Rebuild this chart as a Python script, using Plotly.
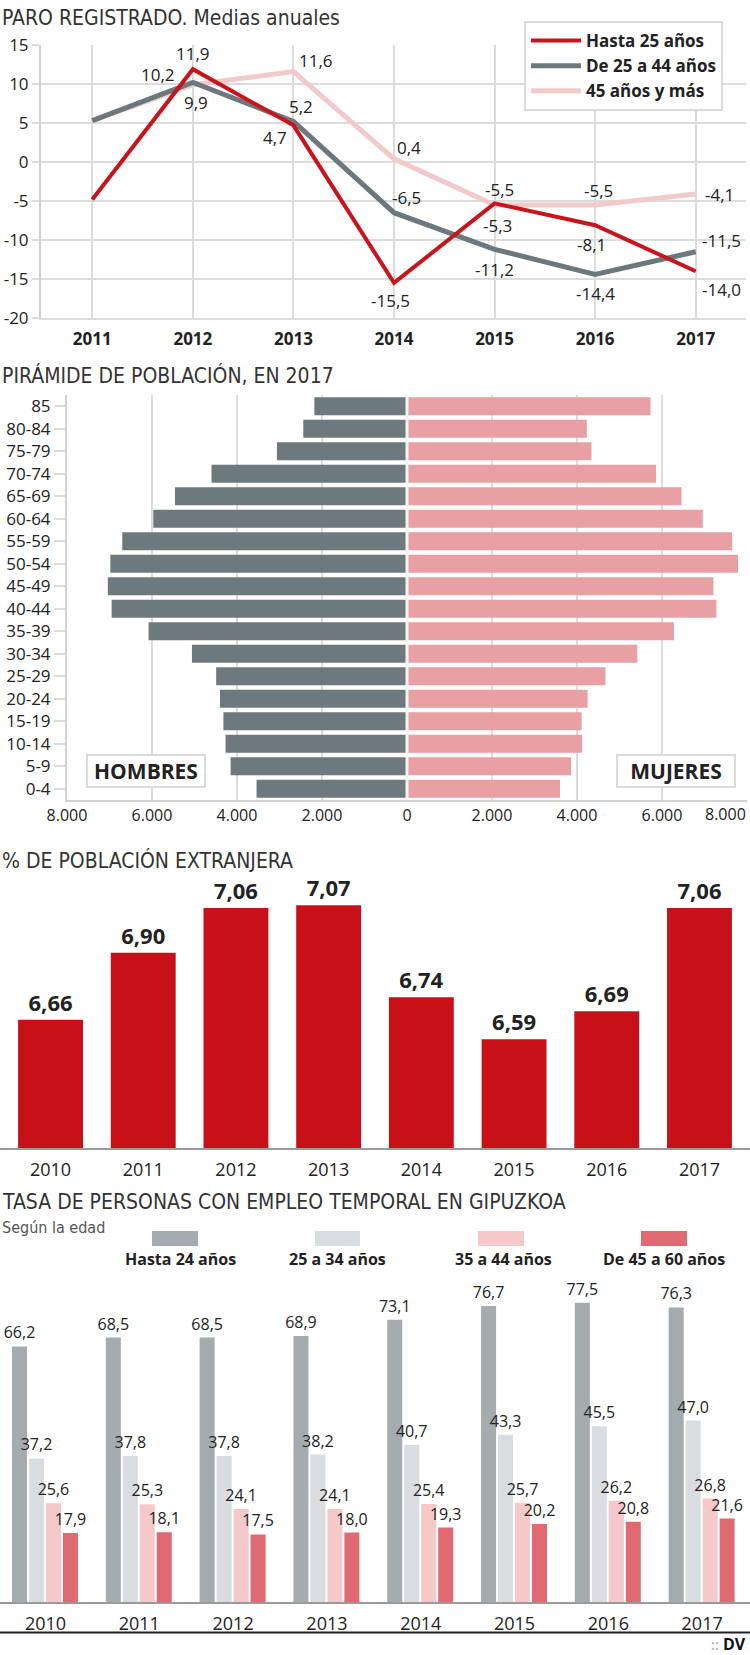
import plotly.graph_objects as go

W, H = 750, 1655

# ---------------- data ----------------
paro_years = [2011, 2012, 2013, 2014, 2015, 2016, 2017]
paro_hasta25 = [-4.8, 11.9, 4.7, -15.5, -5.3, -8.1, -14.0]
paro_25a44 = [5.3, 10.2, 5.2, -6.5, -11.2, -14.4, -11.5]
paro_45mas = [5.3, 9.9, 11.6, 0.4, -5.5, -5.5, -4.1]
paro_names = ["Hasta 25 años", "De 25 a 44 años", "45 años y más"]
paro_yticks = [15, 10, 5, 0, -5, -10, -15, -20]

pyr_ages = ["85", "80-84", "75-79", "70-74", "65-69", "60-64", "55-59", "50-54",
            "45-49", "40-44", "35-39", "30-34", "25-29", "20-24", "15-19",
            "10-14", "5-9", "0-4"]
pyr_hombres = [2180, 2440, 3060, 4600, 5460, 5970, 6700, 6980, 7040, 6950,
               6080, 5060, 4490, 4400, 4320, 4270, 4150, 3540]
pyr_mujeres = [5730, 4230, 4340, 5860, 6460, 6960, 7650, 7790, 7210, 7280,
               6280, 5420, 4670, 4250, 4110, 4120, 3860, 3600]
pyr_ticks = [-8000, -6000, -4000, -2000, 0, 2000, 4000, 6000, 8000]
pyr_labels = ["HOMBRES", "MUJERES"]

ext_years = ["2010", "2011", "2012", "2013", "2014", "2015", "2016", "2017"]
ext_values = [6.66, 6.90, 7.06, 7.07, 6.74, 6.59, 6.69, 7.06]

temp_years = ["2010", "2011", "2012", "2013", "2014", "2015", "2016", "2017"]
temp_hasta24 = [66.2, 68.5, 68.5, 68.9, 73.1, 76.7, 77.5, 76.3]
temp_25a34 = [37.2, 37.8, 37.8, 38.2, 40.7, 43.3, 45.5, 47.0]
temp_35a44 = [25.6, 25.3, 24.1, 24.1, 25.4, 25.7, 26.2, 26.8]
temp_45a60 = [17.9, 18.1, 17.5, 18.0, 19.3, 20.2, 20.8, 21.6]
temp_names = ["Hasta 24 años", "25 a 34 años", "35 a 44 años", "De 45 a 60 años"]

titles = ["PARO REGISTRADO. Medias anuales", "PIRÁMIDE DE POBLACIÓN, EN 2017",
          "% DE POBLACIÓN EXTRANJERA", "TASA DE PERSONAS CON EMPLEO TEMPORAL EN GIPUZKOA"]
subtitle4 = "Según la edad"

# ---------------- style ----------------
BODY = "Open Sans, Noto Sans, sans-serif"
TITLEF = "Liberation Sans Narrow, DejaVu Sans Condensed, Roboto, sans-serif"
TXT = "#222222"
GRID = "#dcdcdc"
C_RED = "#c8141c"
C_GRAY = "#6d787d"
C_PINK = "#f3cacc"
C_MALE = "#6e797e"
C_FEMALE = "#e9a0a4"
C_EXT = "#c81018"
C_T = ["#a4acb0", "#d9dde0", "#f5c8ca", "#e06a72"]


def py(p):
    return 1 - p / H


def px(p):
    return p / W


def fmt(v, d=1):
    return f"{v:.{d}f}".replace(".", ",")


fig = go.Figure()
ann = []
shapes = []

# ---------------- chart 1: lines ----------------
line_series = [(paro_45mas, paro_names[2], C_PINK, 5, 3),
               (paro_25a44, paro_names[1], C_GRAY, 5, 2),
               (paro_hasta25, paro_names[0], C_RED, 4, 1)]
for vals, nm, col, lw, rank in line_series:
    fig.add_trace(go.Scatter(x=paro_years, y=vals, mode="lines", name=nm,
                             line=dict(color=col, width=lw), xaxis="x", yaxis="y",
                             legendrank=rank, showlegend=True, hoverinfo="skip"))

# label offsets (dx, dy in px) per series/year, None = no label
off_red = [None, (0, -16), (-18, 12), (-4, 18), (3, 22), (-4, 19), (26, 18)]
off_gray = [None, (-35, -8), (8, -15), (12, -15), (0, 20), (0, 19), (26, -11)]
off_pink = [None, (3, 18), (23, -11), (15, -11), (5, -15), (3, -14), (24, 1)]
for vals, offs in [(paro_hasta25, off_red), (paro_25a44, off_gray), (paro_45mas, off_pink)]:
    for xv, yv, o in zip(paro_years, vals, offs):
        if o is None:
            continue
        ann.append(dict(x=xv, y=yv, xref="x", yref="y", text=fmt(yv), showarrow=False,
                        xanchor="center", yanchor="middle",
                        xshift=o[0], yshift=-o[1], font=dict(family=BODY, size=17, color=TXT)))

# ---------------- chart 2: pyramid ----------------
fig.add_trace(go.Bar(y=pyr_ages, x=[-v for v in pyr_hombres], orientation="h",
                     marker=dict(color=C_MALE, line=dict(width=0)), xaxis="x2", yaxis="y2",
                     width=0.79, offset=-0.395, showlegend=False, hoverinfo="skip"))
fig.add_trace(go.Bar(y=pyr_ages, x=pyr_mujeres, orientation="h",
                     marker=dict(color=C_FEMALE, line=dict(width=0)), xaxis="x2", yaxis="y2",
                     width=0.79, offset=-0.395, showlegend=False, hoverinfo="skip"))
shapes.append(dict(type="line", xref="x2", yref="paper", x0=0, x1=0, y0=py(800), y1=py(395),
                   line=dict(color="#f2f3f3", width=3), layer="above"))
for lab, cx in zip(pyr_labels, [146, 675.5]):
    ann.append(dict(x=px(cx), y=py(771), xref="paper", yref="paper", text=f"<b>{lab}</b>",
                    xanchor="center", yanchor="middle",
                    showarrow=False, font=dict(family=BODY, size=21, color=TXT),
                    bgcolor="white", bordercolor="#dadada", borderwidth=2, borderpad=0,
                    width=116, height=30))
ann.append(dict(x=px(748), y=py(814), xref="paper", yref="paper", xanchor="right", yanchor="middle",
                text=f"{pyr_ticks[-1]:,}".replace(",", "."), showarrow=False,
                font=dict(family=BODY, size=16, color=TXT)))

# ---------------- chart 3: bars ----------------
fig.add_trace(go.Bar(x=ext_years, y=ext_values, marker=dict(color=C_EXT, line=dict(width=0)),
                     xaxis="x3", yaxis="y3", width=0.70, offset=-0.35,
                     text=[fmt(v, 2) for v in ext_values], textposition="outside",
                     textfont=dict(family=BODY, size=22, color=TXT, weight="bold"),
                     constraintext="none", cliponaxis=False, showlegend=False, hoverinfo="skip"))

# ---------------- chart 4: grouped bars ----------------
offs4 = [-0.357, -0.176, 0.005, 0.186]
for vals, nm, col, of in zip([temp_hasta24, temp_25a34, temp_35a44, temp_45a60], temp_names, C_T, offs4):
    fig.add_trace(go.Bar(x=temp_years, y=vals, name=nm, marker=dict(color=col, line=dict(width=0)),
                         xaxis="x4", yaxis="y4", width=0.16, offset=of,
                         text=[fmt(v) for v in vals], textposition="outside",
                         textfont=dict(family=BODY, size=16, color=TXT),
                         constraintext="none", cliponaxis=False, showlegend=False, hoverinfo="skip"))
sw_x = [(152, 198), (315, 360), (478, 524), (641, 687)]
lab_cx = [180, 337, 503, 664]
for (a, b), col, nm, cx in zip(sw_x, C_T, temp_names, lab_cx):
    shapes.append(dict(type="rect", xref="paper", yref="paper", x0=px(a), x1=px(b),
                       y0=py(1246), y1=py(1231), fillcolor=col, line=dict(width=0)))
    ann.append(dict(x=px(cx), y=py(1259), xref="paper", yref="paper", text=f"<b>{nm}</b>",
                    xanchor="center", yanchor="middle",
                    showarrow=False, font=dict(family=BODY, size=16, color=TXT)))

# titles
for t, cy in zip(titles, [18, 375, 860, 1202]):
    ann.append(dict(x=0, y=py(cy), xref="paper", yref="paper", xanchor="left", yanchor="middle",
                    text=t, showarrow=False, font=dict(family=TITLEF, size=21, color="#333333")))
ann.append(dict(x=0, y=py(1227), xref="paper", yref="paper", xanchor="left", yanchor="middle",
                text=subtitle4, showarrow=False, font=dict(family=TITLEF, size=16, color="#555555")))

# footer
shapes.append(dict(type="line", xref="paper", yref="paper", x0=0, x1=1, y0=py(1632.5), y1=py(1632.5),
                   line=dict(color="#222222", width=2)))
ann.append(dict(x=px(748), y=py(1644), xref="paper", yref="paper", xanchor="right", yanchor="middle",
                text="<b>DV</b>", showarrow=False, font=dict(family=BODY, size=16, color="#111111")))
ann.append(dict(x=px(721), y=py(1644), xref="paper", yref="paper", xanchor="right", yanchor="middle",
                text="<b>::</b>", showarrow=False, font=dict(family=BODY, size=14, color="#bbbbbb")))

fig.update_layout(
    template="none",
    width=W, height=H, margin=dict(l=0, r=0, t=0, b=0, pad=0, autoexpand=False),
    paper_bgcolor="white", plot_bgcolor="white",
    separators=",.",
    barmode="overlay",
    font=dict(family=BODY, color=TXT),
    showlegend=True,
    hovermode=False,
    legend=dict(x=px(524), y=py(21), xanchor="left", yanchor="top", bgcolor="white",
                bordercolor="#dadada", borderwidth=2, itemwidth=50,
                font=dict(family=BODY, size=17, color=TXT, weight="bold"),
                traceorder="normal"),
    # chart 1
    xaxis=dict(domain=[px(41), px(746)], range=[2010.49, 2017.5], tickvals=paro_years,
               showgrid=True, gridcolor=GRID, gridwidth=2, zeroline=False, showline=True,
               linecolor=GRID, linewidth=2, ticks="outside", ticklen=5, tickcolor="rgba(0,0,0,0)",
               tickfont=dict(family=BODY, size=17, color=TXT, weight="bold"), anchor="y",
               fixedrange=True, automargin=False),
    yaxis=dict(domain=[py(318), py(45)], range=[-20, 15], tickvals=paro_yticks,
               ticktext=[str(v) for v in paro_yticks],
               showgrid=True, gridcolor=GRID, gridwidth=2, zeroline=False, showline=True,
               linecolor="#cfcfcf", linewidth=2, ticks="outside", ticklen=7, tickcolor=GRID, tickwidth=2,
               tickfont=dict(family=BODY, size=17, color=TXT), anchor="x", fixedrange=True,
               automargin=False),
    # chart 2
    xaxis2=dict(domain=[px(67), px(747)], range=[-8000, 8000], tickvals=pyr_ticks[:-1],
                ticktext=[f"{abs(v):,}".replace(",", ".") for v in pyr_ticks[:-1]],
                showgrid=True, gridcolor=GRID, gridwidth=2, zeroline=False, showline=True,
                linecolor="#d2d2d2", linewidth=2, ticks="", tickcolor="rgba(0,0,0,0)",
                tickfont=dict(family=BODY, size=16, color=TXT), anchor="y2", fixedrange=True,
                automargin=False),
    yaxis2=dict(domain=[py(800), py(395)], type="category", categoryorder="array",
                categoryarray=pyr_ages, range=[17.5, -0.5], showgrid=False, zeroline=False,
                showline=True, linecolor="#d2d2d2", linewidth=2, ticks="outside", ticklen=11,
                tickcolor=GRID, tickwidth=2, tickfont=dict(family=BODY, size=17, color=TXT),
                anchor="x2", fixedrange=True, automargin=False),
    # chart 3
    xaxis3=dict(domain=[0, 1], type="category", range=[-0.545, 7.545], showgrid=False, zeroline=False,
                showline=True, linecolor="#9a9a9a", linewidth=2, ticks="outside", ticklen=4,
                tickcolor="rgba(0,0,0,0)", tickfont=dict(family=BODY, size=18, color=TXT),
                anchor="y3", fixedrange=True, automargin=False),
    yaxis3=dict(domain=[py(1148), py(880)], range=[6.2, 6.2 + (1148 - 880) / 279.0], visible=False,
                anchor="x3", fixedrange=True, automargin=False),
    # chart 4
    xaxis4=dict(domain=[0, 1], type="category", range=[-0.485, 7.51], showgrid=False, zeroline=False,
                showline=True, linecolor="#9a9a9a", linewidth=2, ticks="outside", ticklen=4,
                tickcolor="rgba(0,0,0,0)", tickfont=dict(family=BODY, size=18, color=TXT),
                anchor="y4", fixedrange=True, automargin=False),
    yaxis4=dict(domain=[py(1602), py(1290)], range=[0, (1602 - 1290) / 3.86], visible=False,
                anchor="x4", fixedrange=True, automargin=False),
    annotations=ann,
    shapes=shapes,
)

fig.write_html("out.html", config={"displayModeBar": False},
               post_script="document.body.style.margin='0';document.body.style.padding='0';")
